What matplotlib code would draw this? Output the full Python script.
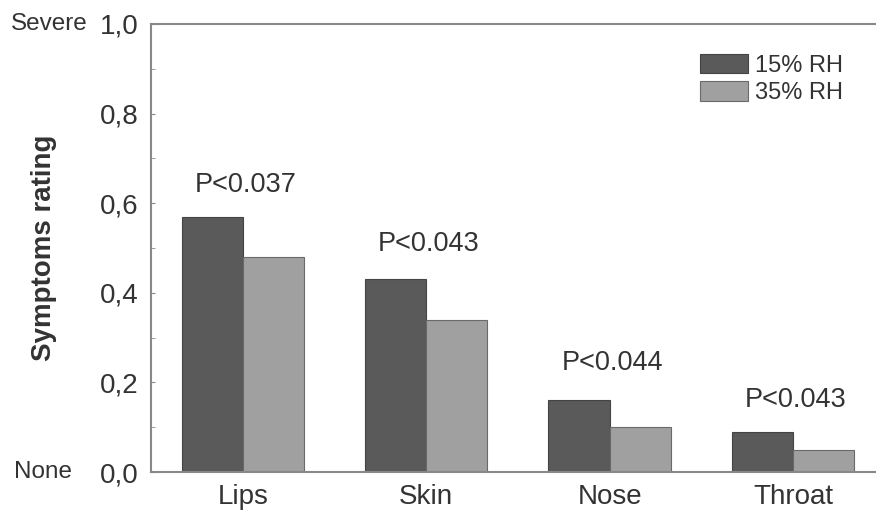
import matplotlib
matplotlib.use("Agg")
import matplotlib.pyplot as plt
import numpy as np
from matplotlib.ticker import MultipleLocator, FuncFormatter

plt.rcParams['font.family'] = ['Liberation Sans', 'DejaVu Sans']

categories = ["Lips", "Skin", "Nose", "Throat"]
rh15 = [0.57, 0.43, 0.16, 0.09]
rh35 = [0.48, 0.34, 0.10, 0.05]
pvals = ["P<0.037", "P<0.043", "P<0.044", "P<0.043"]
series_labels = ["15% RH", "35% RH"]

fig = plt.figure(figsize=(8.76, 5.11), dpi=100)
ax = fig.add_axes([151/876, 1 - 472/511, 1 - 151/876 + 0.01, 448/511])

x = np.arange(len(categories))
w = 1/3
ax.bar(x - w/2, rh15, w, color='#5a5a5a', edgecolor='#444444', linewidth=0.8, label=series_labels[0])
ax.bar(x + w/2, rh35, w, color='#a0a0a0', edgecolor='#6a6a6a', linewidth=0.8, label=series_labels[1])

pv_y = [0.64, 0.51, 0.243, 0.16]
for xi, t, yy in zip(x, pvals, pv_y):
    ax.text(xi + 0.015, yy, t, ha='center', va='center', fontsize=19.5, color='#333333')

ax.set_xlim(-0.5, 3.5)
ax.set_ylim(0, 1.0)
ax.set_xticks(x)
ax.set_xticklabels(categories, fontsize=20, color='#333333')
ax.tick_params(axis='x', length=0, pad=9)
ax.yaxis.set_major_locator(MultipleLocator(0.2))
ax.yaxis.set_minor_locator(MultipleLocator(0.1))
ax.yaxis.set_major_formatter(FuncFormatter(lambda v, p: f"{v:.1f}".replace('.', ',')))
ax.tick_params(axis='y', which='both', direction='in', length=3, color='#888888',
               labelsize=20, labelcolor='#333333', pad=9)

for s in ['top', 'bottom', 'left', 'right']:
    ax.spines[s].set_color('#888888')
    ax.spines[s].set_linewidth(1.5)

ax.set_ylabel("Symptoms rating", fontsize=20, fontweight='bold', color='#333333', labelpad=31)

ax.text(-0.086, 1.0, "Severe", transform=ax.transAxes, ha='right', va='center', fontsize=17.5, color='#333333')
ax.text(-0.107, 0.0, "None", transform=ax.transAxes, ha='right', va='center', fontsize=17.5, color='#333333')

leg = ax.legend(loc='upper left', bbox_to_anchor=(0.736, 0.955), frameon=False, fontsize=17,
                handlelength=2.0, handleheight=0.9, handletextpad=0.3, labelspacing=0.2,
                borderaxespad=0)
for t in leg.get_texts():
    t.set_color('#333333')

fig.savefig("out.png", dpi=100)
